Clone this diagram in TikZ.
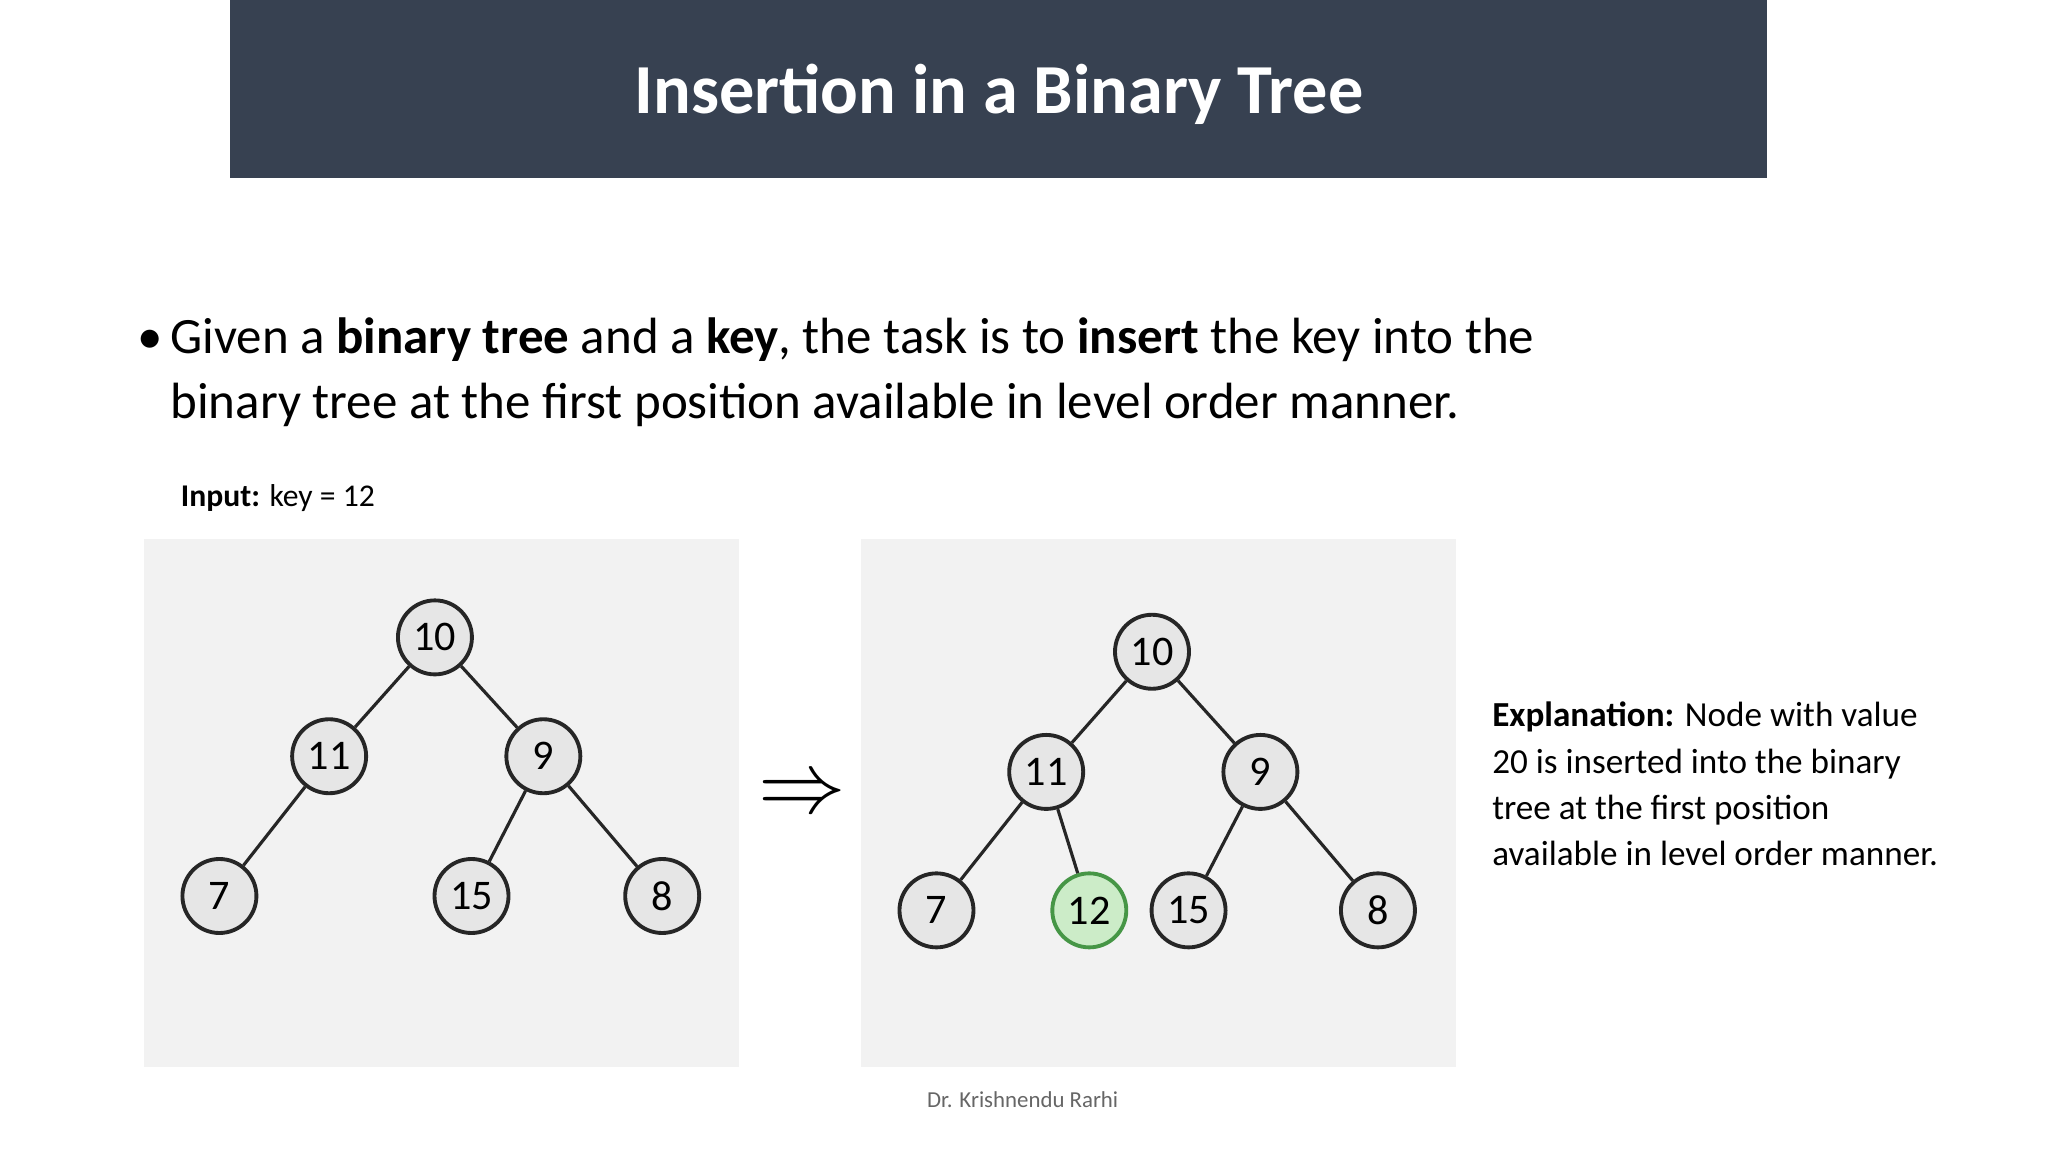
\documentclass[tikz,border=0pt]{standalone}
\usepackage{fontspec}
\setmainfont{Carlito}
\usepackage{amsmath}
\usepackage{amssymb}
\usetikzlibrary{positioning}
\definecolor{barcol}{RGB}{55,65,81}
\definecolor{panelcol}{RGB}{242,242,242}
\definecolor{nodecol}{RGB}{230,230,230}
\definecolor{newcol}{RGB}{204,236,200}
\definecolor{newdraw}{RGB}{70,150,70}
\tikzstyle{tnode} = [circle, draw = black!85, fill = nodecol, line width = 1.1pt, minimum size = 0.74cm, inner sep = 0, font = \fontsize{12}{12}\selectfont]
\tikzstyle{edge} = [-, draw = black!85, line width = 0.9pt]
\begin{document}
\begin{tikzpicture}[x=0.013061cm, y=-0.013061cm]
\useasboundingbox (0,0) rectangle (1568,882);
\fill [white] (0,0) rectangle (1568,882);
% title bar
\fill [barcol] (176,0) rectangle (1353,136);
\node [draw=none, text=white, font=\fontsize{20}{24}\selectfont\bfseries] (title) at (765,72) {Insertion in a Binary Tree};
% bullet text
\node [draw=none, anchor=west, font=\fontsize{14.5}{19}\selectfont] (dot) at (96,262) {•};
\node [draw=none, anchor=north west, align=left, inner sep=0, font=\fontsize{14.5}{18.5}\selectfont] (intro) at (130,243)
  {Given a \textbf{binary tree} and a \textbf{key}, the task is to \textbf{insert} the key into the\\
   binary tree at the first position available in level order manner.};
\node [draw=none, anchor=west, inner sep=0, font=\fontsize{9}{11}\selectfont] (input) at (138,381) {\textbf{Input:} key = 12};
% panels
\fill [panelcol] (110,413) rectangle (566,817);
\fill [panelcol] (659,413) rectangle (1115,817);
% left tree
\node [tnode] (L10) at (333,488) {10};
\node [tnode] (L11) at (252,579) {11};
\node [tnode] (L9) at (416,579) {9};
\node [tnode] (L7) at (168,686) {7};
\node [tnode] (L15) at (361,686) {15};
\node [tnode] (L8) at (507,686) {8};
\draw [edge] (L10) to (L11);
\draw [edge] (L10) to (L9);
\draw [edge] (L11) to (L7);
\draw [edge] (L9) to (L15);
\draw [edge] (L9) to (L8);
% arrow
\node [draw=none, font=\fontsize{34}{34}\selectfont] (arr) at (614,610) {$\Rightarrow$};
% right tree
\node [tnode] (R10) at (882,499) {10};
\node [tnode] (R11) at (801,591) {11};
\node [tnode] (R9) at (965,591) {9};
\node [tnode] (R7) at (717,697) {7};
\node [tnode, fill=newcol, draw=newdraw] (R12) at (834,697) {12};
\node [tnode] (R15) at (910,697) {15};
\node [tnode] (R8) at (1055,697) {8};
\draw [edge] (R10) to (R11);
\draw [edge] (R10) to (R9);
\draw [edge] (R11) to (R7);
\draw [edge] (R11) to (R12);
\draw [edge] (R9) to (R15);
\draw [edge] (R9) to (R8);
% explanation
\node [draw=none, anchor=north west, align=left, inner sep=0, font=\fontsize{10}{13.2}\selectfont] (expl) at (1142,537)
  {\textbf{Explanation:} Node with value\\20 is inserted into the binary\\tree at the first position\\available in level order manner.};
\node [draw=none, text=black!60, font=\fontsize{6.5}{8}\selectfont] (foot) at (783,842) {Dr. Krishnendu Rarhi};
\end{tikzpicture}
\end{document}
